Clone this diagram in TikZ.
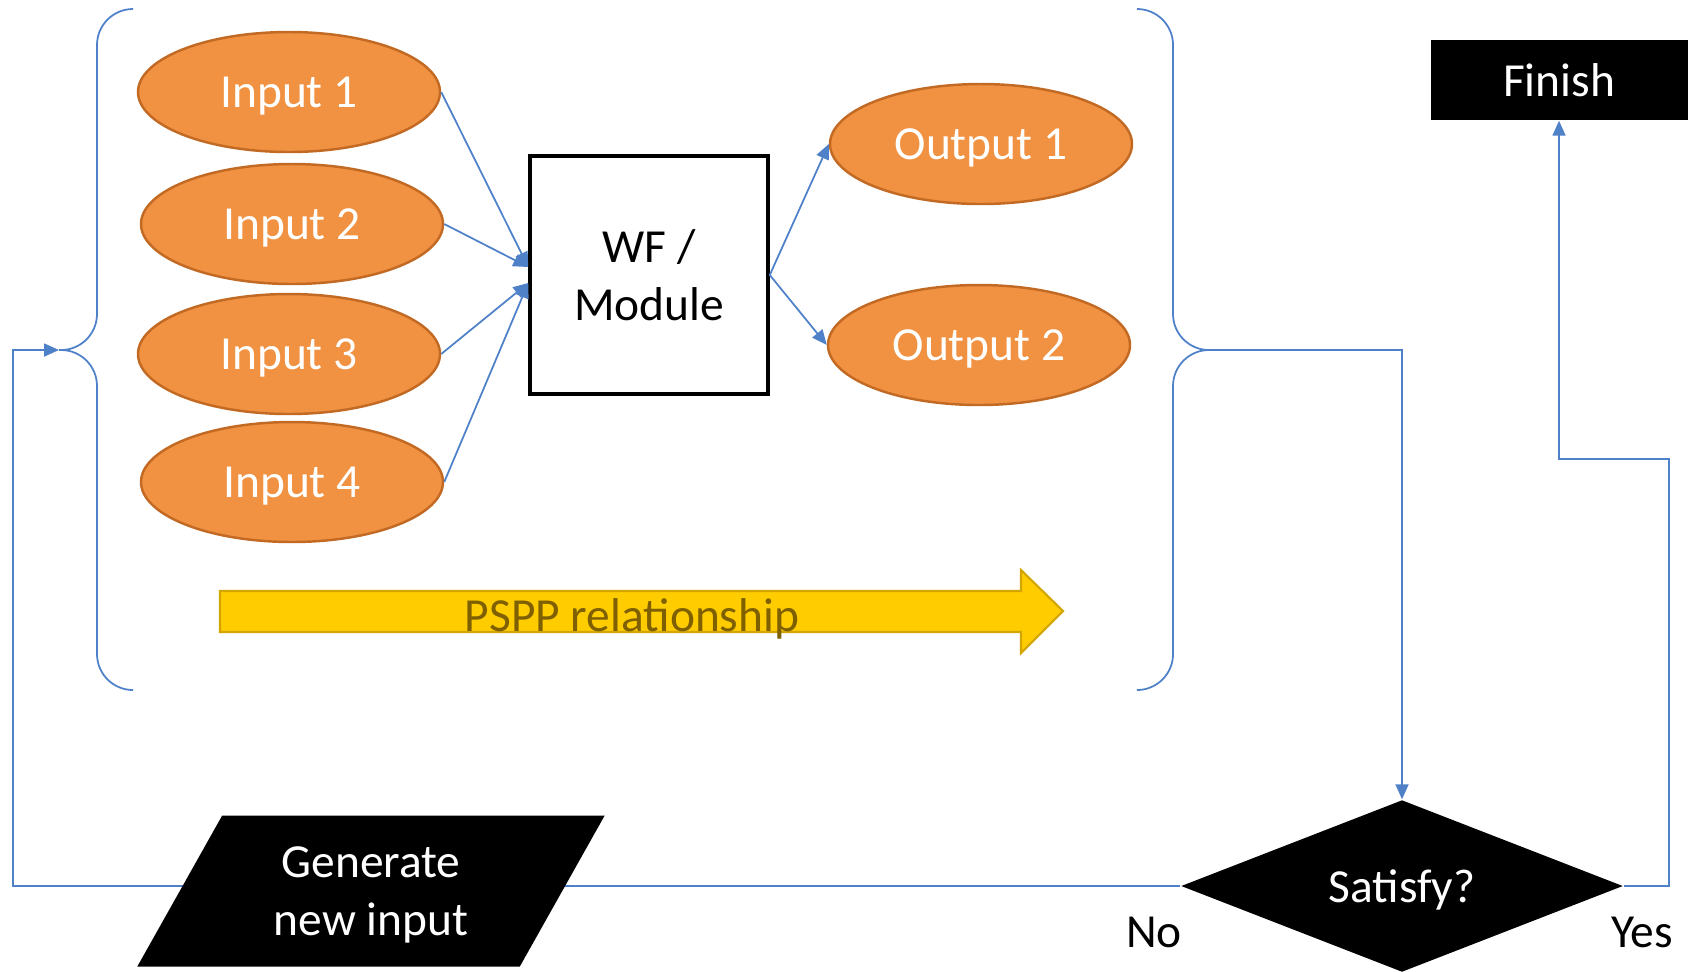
\documentclass[tikz,border=0pt]{standalone}
\usepackage{fontspec}
\setmainfont{Carlito}
\definecolor{LinkColor}{RGB}{79,129,201}
\definecolor{InputFill}{RGB}{241,146,66}
\definecolor{InputLine}{RGB}{194,106,36}
\definecolor{ArrowFill}{RGB}{255,204,0}
\definecolor{ArrowLine}{RGB}{210,165,0}
\definecolor{ArrowText}{RGB}{127,96,0}
\usetikzlibrary{arrows.meta, shapes.geometric, calc}

\begin{document}
\begin{tikzpicture}[x=0.1mm, y=-0.1mm,
  font=\fontsize{13.5}{16.5}\selectfont,
  data/.style={ellipse, draw=InputLine, line width=0.7pt, fill=InputFill, text=white, minimum width=3.02cm, minimum height=1.2cm, inner sep=0pt, text depth=0pt},
  link/.style={draw=LinkColor, line width=0.5pt, -{Triangle[length=1.5mm, width=1.3mm]}},
  brace/.style={draw=LinkColor, line width=0.5pt, rounded corners=0.36cm},
  block/.style={fill=black, text=white, inner sep=0pt, align=center, text depth=0pt}]
  \useasboundingbox (0,0) rectangle (1691,971);
  \node[data] (in1) at (289,92) {Input 1};
  \node[data] (in2) at (292,224) {Input 2};
  \node[data] (in3) at (289,354) {Input 3};
  \node[data] (in4) at (292,482) {Input 4};
  \node[draw, line width=1pt, fill=white, minimum size=2.38cm, align=center] (wf) at (649,275) {WF /\\Module};
  \node[data] (out1) at (981,144) {Output 1};
  \node[data] (out2) at (979,345) {Output 2};
  \coordinate (wfup) at ([yshift=0.8mm]wf.west);
  \coordinate (wfdown) at ([yshift=-0.8mm]wf.west);
  \draw[link] (in1.east) -- (wfup);
  \draw[link] (in2.east) -- (wfup);
  \draw[link] (in3.east) -- (wfdown);
  \draw[link] (in4.east) -- (wfdown);
  \draw[link] (wf.east) -- (out1.west);
  \draw[link] (wf.east) -- (out2.west);
  % PSPP arrow
  \filldraw[fill=ArrowFill, draw=ArrowLine, line width=0.6pt] (220,591) -- (1021,591) -- (1021,570) -- (1063,611) -- (1021,653) -- (1021,632) -- (220,632) -- cycle;
  \node[text=ArrowText, anchor=base] (pspp) at (632,631) {PSPP relationship};
  % braces
  \coordinate (lbrace) at (59,350);
  \coordinate (rbrace) at (1210,350);
  \draw[brace] (133,9) -- (97,9) -- (97,350) -- (lbrace) (lbrace) -- (97,350) -- (97,690) -- (133,690);
  \draw[brace] (1138,9) -- (1173,9) -- (1173,350) -- (rbrace) (rbrace) -- (1173,350) -- (1173,690) -- (1138,690);
  \node[block, diamond, minimum width=4.42cm, minimum height=1.72cm, aspect=2.57] (sat) at (1402,886) {Satisfy?};
  \node[block, minimum width=2.57cm, minimum height=0.8cm] (fin) at (1559,80) {Finish};
  \coordinate (back) at (13,886);
  \coordinate (yes) at (1669,459);
  \draw[link] (rbrace) -| (sat.north);
  \draw[link] (sat.west) -- (back) |- (lbrace);
  \draw[link] (sat.east) -| (yes) -| (fin.south);
  \node[block, trapezium, trapezium left angle=58, trapezium right angle=122, trapezium stretches=true, minimum width=4.68cm, minimum height=1.51cm] (gen) at (371,891) {Generate\\new input};
  \node (no) at (1154,932) {No};
  \node (yeslabel) at (1642,932) {Yes};
\end{tikzpicture}
\end{document}
